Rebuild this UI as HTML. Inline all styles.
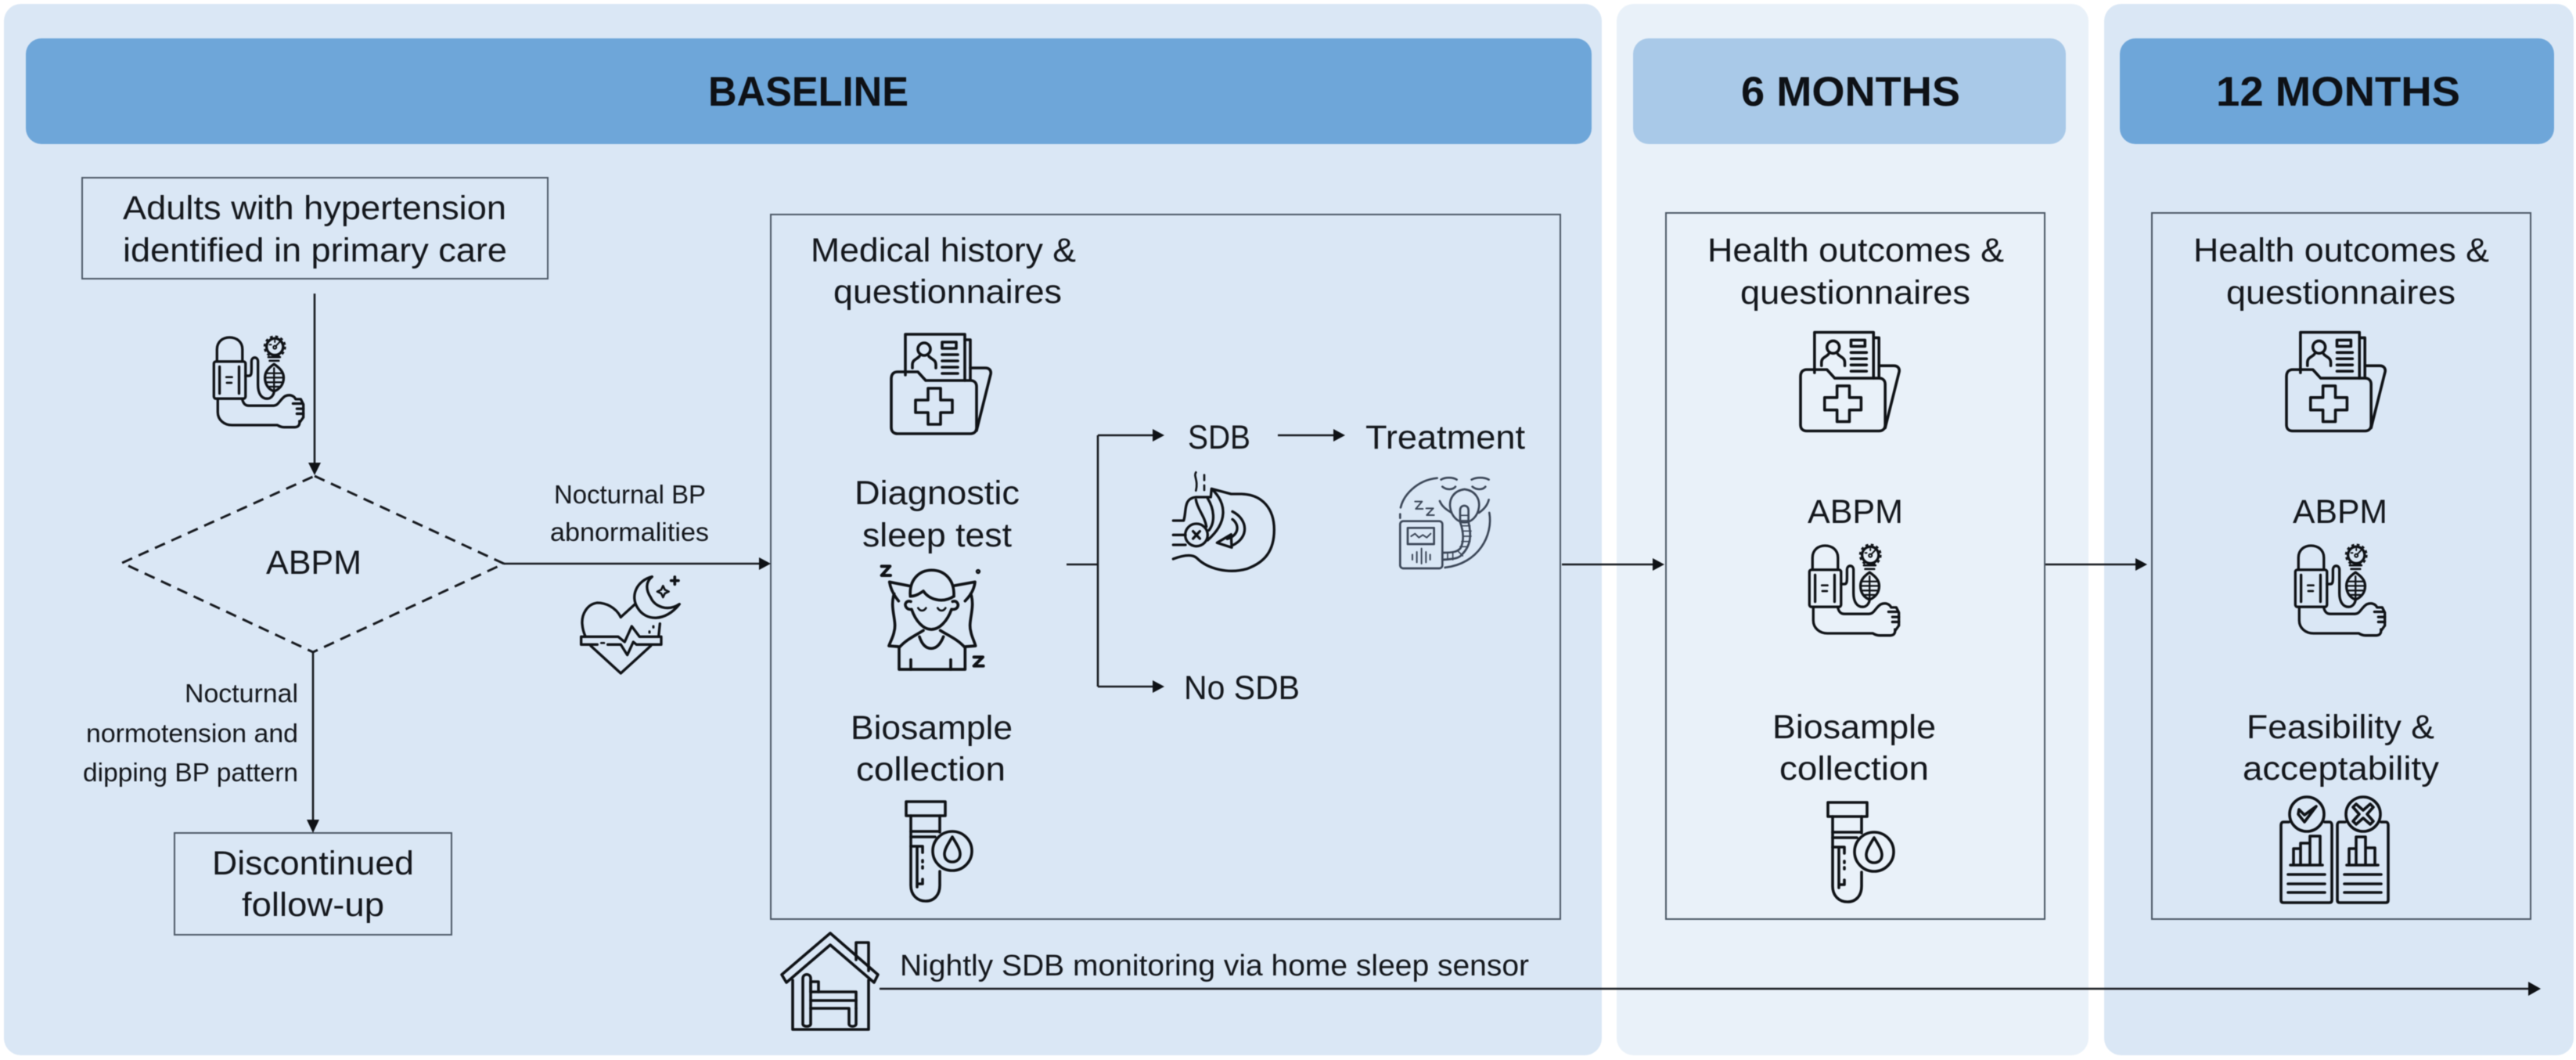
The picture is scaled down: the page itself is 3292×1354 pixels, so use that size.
<!DOCTYPE html>
<html lang="en">
<head>
<meta charset="utf-8">
<title>Study flow diagram</title>
<style>
html,body{margin:0;padding:0;background:#fff}
body{width:3292px;height:1354px;overflow:hidden}
svg{display:block}
#root{filter:blur(.6px)}
text{font-family:"Liberation Sans",sans-serif;fill:#14171c}
.m{font-size:43px}
.s{font-size:33px}
.n{font-size:38px}
.h{font-size:53px;font-weight:bold;fill:#0e1116}
.box{stroke:#4c5866;stroke-width:2;fill:none}
.l{stroke:#16191e;stroke-width:2.6;fill:none}
.ic{fill:none;stroke:#0f1216;stroke-width:3.6;stroke-linecap:round;stroke-linejoin:round}
.ar{fill:#0f1216}
</style>
</head>
<body>
<svg id="root" width="3292" height="1354" viewBox="0 0 3292 1354" xmlns="http://www.w3.org/2000/svg">
<defs>
<symbol id="bp" viewBox="36 27 356 354" overflow="visible">
  <g fill="none" stroke="#0f1216" stroke-width="10" stroke-linecap="round" stroke-linejoin="round">
    <path d="M52 125V78C52 48 75 32 100 32C127 32 150 48 150 78V125"/>
    <rect x="40" y="125" width="122" height="143" rx="8"/>
    <path d="M62 145V248M137 145V248"/>
    <path d="M88 185H110M90 207H108" stroke-width="8"/>
    <path d="M55 268V320C55 350 80 370 110 370H285C295 376 300 378 310 378H352C365 378 372 370 370 355"/>
    <path d="M150 272C155 292 165 295 175 295H270C290 295 295 270 315 258C335 250 350 258 355 270H375L385 290V340L372 358"/>
    <path d="M345 287H378M360 307H385M360 326H385"/>
    <path d="M162 180H175C185 180 185 170 185 150V125C185 105 210 105 210 125V215C210 250 225 268 245 268C262 268 272 252 272 238"/>
    <path d="M272 135C250 150 237 165 237 187C237 215 252 232 272 240C292 232 309 215 309 187C309 165 294 150 272 135Z"/>
    <path d="M242 170H302M238 187H306M244 205H300M252 222H292M272 150V232" stroke-width="7"/>
    <path d="M250 108H295M255 122H290" stroke-width="8"/>
    <circle cx="275" cy="68" r="32"/>
    <circle cx="275" cy="68" r="40" stroke-width="7" stroke-dasharray="11 10" stroke-linecap="butt"/>
    <circle cx="275" cy="70" r="6" stroke-width="6"/>
    <path d="M278 66L295 48M255 60h6M275 44v6" stroke-width="6"/>
  </g>
</symbol>
<symbol id="folder" viewBox="0 0 128 128" overflow="visible">
  <g class="ic">
    <path d="M18 53V1H94V60"/>
    <path d="M94 8H101V58"/>
    <circle cx="42" cy="20" r="8"/>
    <path d="M27 44V40C27 33 33 33 36 29M57 44V40C57 33 51 33 48 29"/>
    <rect x="65" y="11" width="18" height="8"/>
    <path d="M65 27H85M65 35H85M65 43H85M65 51H85"/>
    <path d="M0 58C0 52 3 49 8 49H34L44 60H101C106 60 109 63 109 68V120C109 125 106 128 101 128H8C3 128 0 125 0 120Z"/>
    <path d="M101 44H120C125 44 128 47 127 52L109 124"/>
    <path d="M47 70H63V85H78V101H63V116H47V101H31V85H47Z"/>
  </g>
</symbol>
<symbol id="tube" viewBox="0 0 86 130" overflow="visible">
  <g class="ic" stroke-width="4">
    <rect x="1" y="1" width="50" height="18"/>
    <path d="M7 19V108C7 120 15 128 26 128C37 128 44 120 44 108V90"/>
    <path d="M44 19V40"/>
    <path d="M7 39H42M7 46H38"/>
    <path d="M7 58H22V66M15 58V110M22 76V78M22 84V86M22 100V106H15"/>
    <circle cx="60" cy="64" r="25"/>
    <path d="M60 46C54 56 50 62 50 68C50 74 54 78 60 78C66 78 70 74 70 68C70 62 66 56 60 46Z"/>
  </g>
</symbol>
<symbol id="feas" viewBox="0 0 137 137" overflow="visible">
  <g class="ic">
    <path d="M10 33H3C1 33 0 35 0 37V133C0 135 1 136 3 136H62C64 136 65 135 65 133V37C65 35 64 33 62 33H56"/>
    <path d="M82 33H75C73 33 72 35 72 37V133C72 135 73 136 75 136H134C136 136 137 135 137 133V37C137 35 136 33 134 33H128"/>
    <circle cx="33" cy="23" r="22"/>
    <circle cx="105" cy="23" r="22"/>
    <path d="M22 23L30 33L45 13L30 24L23 17Z"/>
    <path d="M96 10L105 18L114 10L118 14L110 23L118 32L114 36L105 28L96 36L92 32L100 23L92 14Z"/>
    <path d="M16 88V67H25V88M25 88V60H37V88M37 88V51H50V88M12 88H53"/>
    <path d="M87 88V67H96V88M96 88V52H108V88M108 88V66H120V88M84 88H124"/>
    <path d="M9 100H56M9 112H56M9 123H56M81 100H128M81 112H128M81 123H128"/>
  </g>
</symbol>
</defs>

<!-- panels -->
<rect x="5" y="5" width="2042" height="1343" rx="22" fill="#dae7f5"/>
<rect x="2066" y="5" width="603" height="1343" rx="22" fill="#e9f1f9"/>
<rect x="2689" y="5" width="600" height="1343" rx="22" fill="#dae7f5"/>
<!-- headers -->
<rect x="33" y="49" width="2001" height="135" rx="20" fill="#6ea6d9"/>
<rect x="2087" y="49" width="553" height="135" rx="20" fill="#a9c9e8"/>
<rect x="2709" y="49" width="555" height="135" rx="20" fill="#6ea6d9"/>
<text class="h" x="905" y="135" textLength="256" lengthAdjust="spacingAndGlyphs">BASELINE</text>
<text class="h" x="2225" y="135" textLength="280" lengthAdjust="spacingAndGlyphs">6 MONTHS</text>
<text class="h" x="2832" y="135" textLength="312" lengthAdjust="spacingAndGlyphs">12 MONTHS</text>

<!-- boxes -->
<rect class="box" x="105" y="227" width="595" height="129"/>
<rect class="box" x="223" y="1064" width="354" height="130"/>
<rect class="box" x="985" y="274" width="1009" height="900"/>
<rect class="box" x="2129" y="272" width="484" height="902"/>
<rect class="box" x="2750" y="272" width="484" height="902"/>

<!-- left column text -->
<text class="m" x="157" y="280" textLength="490" lengthAdjust="spacingAndGlyphs">Adults with hypertension</text>
<text class="m" x="157" y="334" textLength="491" lengthAdjust="spacingAndGlyphs">identified in primary care</text>
<text class="m" x="340" y="733" textLength="122" lengthAdjust="spacingAndGlyphs">ABPM</text>
<text class="s" x="708" y="643" textLength="194" lengthAdjust="spacingAndGlyphs">Nocturnal BP</text>
<text class="s" x="703" y="691" textLength="203" lengthAdjust="spacingAndGlyphs">abnormalities</text>
<text class="s" x="236" y="897" textLength="145" lengthAdjust="spacingAndGlyphs">Nocturnal</text>
<text class="s" x="110" y="948" textLength="271" lengthAdjust="spacingAndGlyphs">normotension and</text>
<text class="s" x="106" y="998" textLength="275" lengthAdjust="spacingAndGlyphs">dipping BP pattern</text>
<text class="m" x="271" y="1117" textLength="258" lengthAdjust="spacingAndGlyphs">Discontinued</text>
<text class="m" x="309" y="1170" textLength="182" lengthAdjust="spacingAndGlyphs">follow-up</text>

<!-- left column connectors -->
<path class="l" d="M402 375V592"/>
<polygon class="ar" points="394,591 410,591 402,607"/>
<path d="M402 608L644 720L400 833L156 719Z" fill="none" stroke="#16191e" stroke-width="3" stroke-dasharray="14 9"/>
<path class="l" d="M644 720H972" stroke-width="3"/>
<polygon class="ar" points="970,712 985,720 970,728"/>
<path class="l" d="M400 833V1048"/>
<polygon class="ar" points="392,1047 408,1047 400,1064"/>

<!-- main box text -->
<text class="m" x="1036" y="334" textLength="339" lengthAdjust="spacingAndGlyphs">Medical history &amp;</text>
<text class="m" x="1065" y="387" textLength="292" lengthAdjust="spacingAndGlyphs">questionnaires</text>
<text class="m" x="1092" y="644" textLength="211" lengthAdjust="spacingAndGlyphs">Diagnostic</text>
<text class="m" x="1102" y="698" textLength="191" lengthAdjust="spacingAndGlyphs">sleep test</text>
<text class="m" x="1087" y="944" textLength="207" lengthAdjust="spacingAndGlyphs">Biosample</text>
<text class="m" x="1094" y="997" textLength="191" lengthAdjust="spacingAndGlyphs">collection</text>
<text class="m" x="1518" y="573" textLength="80" lengthAdjust="spacingAndGlyphs">SDB</text>
<text class="m" x="1745" y="573" textLength="204" lengthAdjust="spacingAndGlyphs">Treatment</text>
<text class="m" x="1513" y="893" textLength="148" lengthAdjust="spacingAndGlyphs">No SDB</text>

<!-- branch connectors -->
<path class="l" d="M1363 721H1403M1403 556V877M1403 556H1474M1403 877H1474M1633 556H1705"/>
<polygon class="ar" points="1473,548 1488,556 1473,564"/>
<polygon class="ar" points="1473,869 1488,877 1473,885"/>
<polygon class="ar" points="1704,548 1719,556 1704,564"/>

<!-- between-panel connectors -->
<path class="l" d="M1996 721H2113"/>
<polygon class="ar" points="2112,713 2127,721 2112,729"/>
<path class="l" d="M2614 721H2730"/>
<polygon class="ar" points="2729,713 2744,721 2729,729"/>

<!-- monitoring -->
<text class="n" x="1150" y="1246" textLength="804" lengthAdjust="spacingAndGlyphs">Nightly SDB monitoring via home sleep sensor</text>
<path class="l" d="M1124 1263H3232"/>
<polygon class="ar" points="3231,1254 3247,1263 3231,1272"/>

<!-- 6 months text -->
<text class="m" x="2182" y="334" textLength="379" lengthAdjust="spacingAndGlyphs">Health outcomes &amp;</text>
<text class="m" x="2224" y="388" textLength="294" lengthAdjust="spacingAndGlyphs">questionnaires</text>
<text class="m" x="2310" y="668" textLength="122" lengthAdjust="spacingAndGlyphs">ABPM</text>
<text class="m" x="2265" y="943" textLength="209" lengthAdjust="spacingAndGlyphs">Biosample</text>
<text class="m" x="2274" y="996" textLength="191" lengthAdjust="spacingAndGlyphs">collection</text>

<!-- 12 months text -->
<text class="m" x="2803" y="334" textLength="378" lengthAdjust="spacingAndGlyphs">Health outcomes &amp;</text>
<text class="m" x="2845" y="388" textLength="293" lengthAdjust="spacingAndGlyphs">questionnaires</text>
<text class="m" x="2930" y="668" textLength="121" lengthAdjust="spacingAndGlyphs">ABPM</text>
<text class="m" x="2871" y="943" textLength="240" lengthAdjust="spacingAndGlyphs">Feasibility &amp;</text>
<text class="m" x="2866" y="996" textLength="251" lengthAdjust="spacingAndGlyphs">acceptability</text>

<!-- repeated icons -->
<use href="#bp" x="272" y="429" width="118" height="118"/>
<use href="#bp" x="2311" y="695" width="118" height="118"/>
<use href="#bp" x="2932" y="695" width="118" height="118"/>
<use href="#folder" x="1139" y="426" width="128" height="128"/>
<use href="#folder" x="2301" y="423" width="127" height="128"/>
<use href="#folder" x="2922" y="423" width="127" height="128"/>
<use href="#tube" x="1157" y="1023" width="86" height="130"/>
<use href="#tube" x="2335" y="1024" width="86" height="130"/>
<use href="#feas" x="2915" y="1017" width="137" height="137"/>

<!-- heart + moon -->
<g transform="translate(730,725) scale(.3333)" fill="none" stroke="#0f1216" stroke-width="10" stroke-linecap="round" stroke-linejoin="round">
  <path d="M190 190C170 150 130 135 100 135C60 140 40 180 42 215C44 240 50 255 55 265"/>
  <path d="M190 190L245 140"/>
  <path d="M75 300L190 405L305 300"/>
  <path d="M340 215L335 265"/>
  <path d="M100 295H38V265H180L205 285L232 225L262 265H345V295H250L238 285L215 335L190 295H140"/>
  <path d="M115 289H126" stroke-width="8"/>
  <path d="M300 245V249M315 225V229" stroke-width="9"/>
  <path d="M310 35C250 50 225 110 255 155C285 205 360 210 415 140C370 170 320 150 305 115C285 85 285 55 310 35Z"/>
  <path d="M352 70L359 85L374 92L359 99L352 114L345 99L330 92L345 85Z" stroke-width="8"/>
  <path d="M397 36V64M383 50H411" stroke-width="11"/>
</g>

<!-- sleeping woman -->
<g transform="translate(1080,700) scale(.3333)" fill="none" stroke="#0f1216" stroke-width="11" stroke-linecap="round" stroke-linejoin="round">
  <path d="M140 70H172L140 105H174" stroke-width="12"/>
  <path d="M494 418H528L494 452H530" stroke-width="12"/>
  <circle cx="510" cy="90" r="4"/>
  <path d="M245 145L170 130C175 160 190 185 205 203"/>
  <path d="M415 145L498 130C495 160 478 185 460 203"/>
  <path d="M188 175C170 230 200 280 188 320C185 340 175 355 168 375L205 378"/>
  <path d="M482 175C500 230 470 280 482 320C485 340 495 355 500 375L462 378"/>
  <path d="M250 185C245 120 285 85 332 85C380 85 420 120 417 185"/>
  <path d="M250 185C270 185 285 175 300 165C320 195 370 215 417 185"/>
  <path d="M252 205C235 200 225 215 235 228C240 235 248 236 255 235C270 280 300 312 330 312C362 312 392 280 408 235C415 236 425 235 430 228C438 215 428 200 412 205"/>
  <path d="M280 230C288 243 302 243 310 230M355 230C363 243 377 243 385 230" stroke-width="8"/>
  <path d="M300 316C270 335 235 350 207 382V465H460V382C432 350 395 335 365 316"/>
  <path d="M285 340C295 370 310 385 330 385C350 385 365 370 377 340"/>
  <path d="M252 428V465M405 428V465"/>
</g>

<!-- snoring head -->
<g transform="translate(1460,570) scale(.3333)" fill="none" stroke="#0f1216" stroke-width="10" stroke-linecap="round" stroke-linejoin="round">
  <path d="M118 285H158C170 250 155 200 205 195H262L265 163L340 183H380C460 185 505 240 505 320C505 400 470 445 400 470C330 490 250 470 210 430C190 410 150 420 118 432"/>
  <path d="M118 340H165M118 378H165"/>
  <path d="M205 205C210 240 240 270 245 308"/>
  <path d="M250 200C275 240 280 290 255 322"/>
  <path d="M272 170C320 220 330 290 250 360"/>
  <circle cx="207" cy="340" r="43"/>
  <path d="M194 326L220 354M220 326L194 354"/>
  <path d="M345 250C405 280 410 350 345 380"/>
  <path d="M345 280C372 300 372 340 325 355"/>
  <path d="M286 370L340 338L342 388Z"/>
  <path d="M205 100C195 115 215 130 205 170M237 110V130M237 150V168" stroke-width="8"/>
</g>

<!-- CPAP treatment -->
<g transform="translate(1460,570) scale(.3333)" fill="none" stroke="#3b4657" stroke-width="8" stroke-linecap="round" stroke-linejoin="round">
  <path d="M1130 122C1050 130 1000 190 990 235M988 260V275"/>
  <path d="M1330 255C1345 340 1290 450 1160 465"/>
  <path d="M1145 128C1160 118 1190 118 1205 128M1150 155C1165 168 1190 168 1200 155"/>
  <path d="M1262 128C1280 118 1310 118 1328 128M1265 155C1280 168 1305 168 1315 155"/>
  <path d="M1140 210C1150 235 1170 245 1185 255M1328 205C1322 230 1305 245 1290 255"/>
  <path d="M1235 165C1195 170 1175 200 1180 235C1185 270 1210 292 1235 292C1260 292 1285 270 1290 235C1295 200 1275 170 1235 165Z"/>
  <rect x="988" y="287" width="162" height="181" rx="12"/>
  <rect x="1017" y="313" width="101" height="62"/>
  <path d="M1030 345L1045 335L1060 350L1075 340L1090 350L1105 335" stroke-width="6"/>
  <path d="M1035 415V435M1052 405V445M1070 392V450M1087 405V445M1103 415V435" stroke-width="6"/>
  <path d="M1218 290V245C1218 222 1250 222 1250 245V290C1262 340 1260 380 1225 415C1215 428 1200 432 1150 435V408C1190 408 1208 405 1220 390C1232 365 1232 330 1218 290Z"/>
  <path d="M1218 265H1250M1220 285H1252M1224 305H1256M1226 325H1260M1228 345H1260M1224 365H1256M1218 385H1245M1208 400L1228 420M1190 408V435M1170 408V435"  stroke-width="5"/>
  <path d="M1045 212H1072L1048 240H1075M1088 238H1115L1090 264H1118" stroke-width="6"/>
</g>

<!-- house -->
<g class="ic" stroke-width="3.6">
  <path d="M1013 1252V1315H1110V1252"/>
  <path d="M1061 1192L1122 1245L1117 1255L1061 1207L1005 1255L999 1245Z"/>
  <path d="M1094 1226V1204H1110V1240"/>
  <path d="M1026 1308V1250C1026 1243 1036 1243 1036 1250V1308C1036 1312 1026 1312 1026 1308Z"/>
  <path d="M1036 1288H1085M1085 1288V1308C1085 1312 1094 1312 1094 1308V1288"/>
  <path d="M1036 1267H1094V1288"/>
  <path d="M1036 1278H1094"/>
  <path d="M1036 1267V1254H1046V1267"/>
</g>
</svg>
</body>
</html>
